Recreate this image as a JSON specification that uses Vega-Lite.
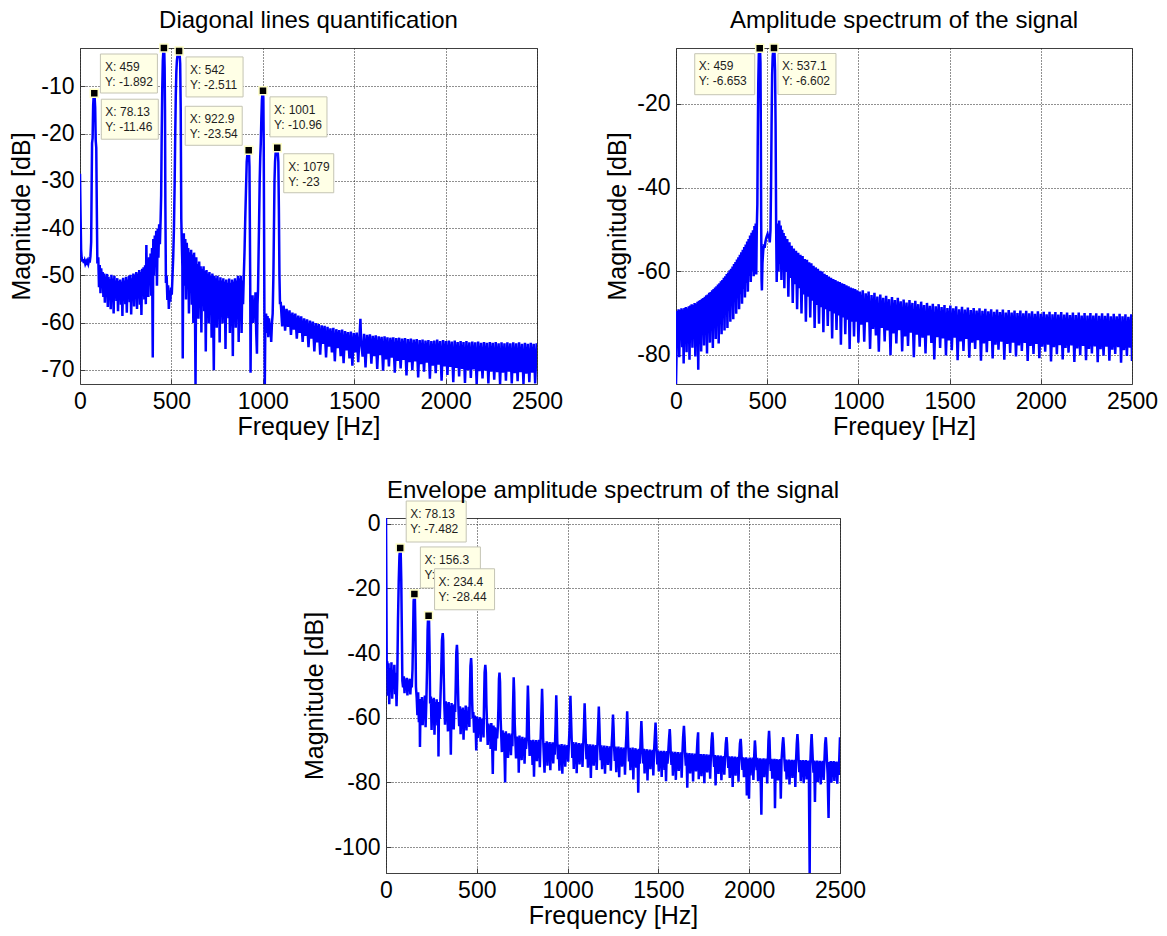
{
"$schema":"https://vega.github.io/schema/vega-lite/v6.json",
"autosize":{"type":"none"},
"padding":{"left":80,"top":48,"right":1087,"bottom":888},
"background":"white",
"bounds":"flush",
"spacing":470,
"config":{
 "font":"Liberation Sans",
 "view":{"stroke":"#404040","strokeWidth":1},
 "axis":{"domain":false,"grid":true,"gridColor":"#202020","gridDash":[1,2],"gridWidth":1,"gridOpacity":1,"ticks":true,"tickSize":-5,"tickColor":"#404040","tickWidth":1,"labelFont":"Liberation Sans","labelFontSize":23,"labelColor":"#000","labelPadding":11,"labelFlush":false,"labelOverlap":false,"titleFont":"Liberation Sans","titleFontSize":25,"titleFontWeight":"normal","titleColor":"#000","titlePadding":6},
 "axisX":{"titlePadding":1},
 "title":{"font":"Liberation Sans","fontSize":24,"fontWeight":"normal","color":"#000","frame":"group","anchor":"middle","offset":8,"baseline":"alphabetic"}
},
"datasets":{
"t1":[{"hz":78.13,"db":-11.46},{"hz":459,"db":-1.892},{"hz":542,"db":-2.511},{"hz":922.9,"db":-23.54},{"hz":1001,"db":-10.96},{"hz":1079,"db":-23}],
"t2":[{"hz":459,"db":-6.653},{"hz":537.1,"db":-6.602}],
"t3":[{"hz":78.13,"db":-7.482},{"hz":156.3,"db":-21.69},{"hz":234.4,"db":-28.44}],
"s1":[{"hz":0,"db":-28.5},{"hz":3,"db":-37},{"hz":6,"db":-44.5},{"hz":9,"db":-46.3},{"hz":13,"db":-47.1},{"hz":17,"db":-46.6},{"hz":21,"db":-47.4},{"hz":25,"db":-46.9},{"hz":29,"db":-47.6},{"hz":33,"db":-47.2},{"hz":37,"db":-47.8},{"hz":41,"db":-47.1},{"hz":45,"db":-47.6},{"hz":49,"db":-46.9},{"hz":53,"db":-47.3},{"hz":57,"db":-46},{"hz":61,"db":-43},{"hz":64,"db":-30},{"hz":66,"db":-22},{"hz":69,"db":-21},{"hz":72,"db":-14},{"hz":75,"db":-12},{"hz":78.13,"db":-11.46},{"hz":80,"db":-12.3},{"hz":83,"db":-14.5},{"hz":86,"db":-21.5},{"hz":89,"db":-23},{"hz":92,"db":-36},{"hz":95,"db":-47.5},
{"hz":100,"db":-46.2},{"hz":104,"db":-52.5},{"hz":108,"db":-47.8},{"hz":112,"db":-53.8},{"hz":116,"db":-48.5},{"hz":120,"db":-51.2},{"hz":124,"db":-49.3},{"hz":128,"db":-54.6},{"hz":132,"db":-49.6},{"hz":136,"db":-55.8},{"hz":140,"db":-50.2},{"hz":144,"db":-52.9},{"hz":148,"db":-49.7},{"hz":152,"db":-56.7},{"hz":156,"db":-50.3},{"hz":160,"db":-52.6},{"hz":164,"db":-50.8},{"hz":168,"db":-57.2},{"hz":172,"db":-49.9},{"hz":176,"db":-54.1},{"hz":180,"db":-50.7},{"hz":184,"db":-58.1},{"hz":188,"db":-50.1},{"hz":192,"db":-53.2},{"hz":196,"db":-51.1},{"hz":200,"db":-55.4},{"hz":204,"db":-50.6},{"hz":208,"db":-57.6},{"hz":212,"db":-51.2},{"hz":216,"db":-53.7},{"hz":220,"db":-50.9},{"hz":224,"db":-56.2},{"hz":228,"db":-51.3},{"hz":232,"db":-58.6},{"hz":236,"db":-50.5},{"hz":240,"db":-54.4},{"hz":244,"db":-51.1},{"hz":248,"db":-56.1},{"hz":252,"db":-50.3},{"hz":256,"db":-57.9},{"hz":260,"db":-50.9},{"hz":264,"db":-53.1},{"hz":268,"db":-50.1},{"hz":272,"db":-55.7},{"hz":276,"db":-49.9},{"hz":280,"db":-58.3},{"hz":284,"db":-50.6},{"hz":288,"db":-54.2},{"hz":292,"db":-49.6},{"hz":296,"db":-56.6},{"hz":300,"db":-49.9},{"hz":304,"db":-53.6},{"hz":308,"db":-49.3},{"hz":312,"db":-57.1},{"hz":316,"db":-49.6},{"hz":320,"db":-54.9},{"hz":324,"db":-48.9},{"hz":328,"db":-56.2},{"hz":332,"db":-49.3},{"hz":336,"db":-58.4},{"hz":340,"db":-48.6},{"hz":344,"db":-53.2},{"hz":348,"db":-48.3},{"hz":352,"db":-55.1},{"hz":356,"db":-47.9},{"hz":360,"db":-56.1},{"hz":363,"db":-43.6},{"hz":366,"db":-52.2},{"hz":370,"db":-47.1},{"hz":374,"db":-54.6},{"hz":378,"db":-46.2},{"hz":382,"db":-52.1},{"hz":386,"db":-45.4},{"hz":390,"db":-54.3},{"hz":394,"db":-44.2},{"hz":398,"db":-67.4},{"hz":401,"db":-42.3},{"hz":405,"db":-50.1},{"hz":409,"db":-41.6},{"hz":413,"db":-47.2},{"hz":417,"db":-40.6},{"hz":421,"db":-52.2},{"hz":425,"db":-40.1},{"hz":429,"db":-46.3},{"hz":433,"db":-39.2},{"hz":437,"db":-43.4},{"hz":441,"db":-38.1},{"hz":444,"db":-33},{"hz":447,"db":-20},{"hz":450,"db":-10.5},{"hz":453,"db":-4.6},{"hz":456,"db":-2.5},{"hz":459,"db":-1.892},{"hz":461,"db":-2.6},{"hz":463,"db":-6},{"hz":465,"db":-15},{"hz":467,"db":-35},{"hz":470,"db":-51.6},{"hz":474,"db":-50.1},{"hz":478,"db":-55.2},{"hz":482,"db":-52.1},{"hz":486,"db":-57.1},{"hz":490,"db":-53.2},{"hz":494,"db":-55.6},{"hz":498,"db":-52.6},{"hz":502,"db":-54.1},{"hz":506,"db":-50.2},{"hz":510,"db":-46.1},{"hz":514,"db":-40},{"hz":518,"db":-30},{"hz":521,"db":-20},{"hz":524,"db":-12},{"hz":527,"db":-7},{"hz":530,"db":-4.6},{"hz":534,"db":-3.2},{"hz":538,"db":-2.7},{"hz":542,"db":-2.511},{"hz":545,"db":-3.1},{"hz":548,"db":-5.2},{"hz":551,"db":-15},{"hz":554,"db":-38},{"hz":557,"db":-43.2},{"hz":560,"db":-48.1},{"hz":562,"db":-67.6},{"hz":565,"db":-45.2},{"hz":568,"db":-41.1},{"hz":572,"db":-52.2},{"hz":576,"db":-42.3},{"hz":580,"db":-55.1},{"hz":584,"db":-43.1},{"hz":588,"db":-48.2},{"hz":592,"db":-44.2},{"hz":596,"db":-58.1},{"hz":600,"db":-45.1},{"hz":604,"db":-51.2},{"hz":608,"db":-44.6},{"hz":612,"db":-56.2},{"hz":616,"db":-45.6},{"hz":620,"db":-60.1},{"hz":624,"db":-45.2},{"hz":628,"db":-52.3},{"hz":632,"db":-73},{"hz":636,"db":-46.2},{"hz":640,"db":-55.1},{"hz":644,"db":-47.6},{"hz":648,"db":-59.2},{"hz":652,"db":-47.1},{"hz":656,"db":-53.2},{"hz":660,"db":-48.1},{"hz":664,"db":-62.1},{"hz":668,"db":-48.6},{"hz":672,"db":-55.2},{"hz":676,"db":-48.1},{"hz":680,"db":-57.6},{"hz":684,"db":-49.1},{"hz":688,"db":-66.1},{"hz":692,"db":-48.9},{"hz":696,"db":-54.2},{"hz":700,"db":-49.6},{"hz":704,"db":-60.2},{"hz":708,"db":-49.3},{"hz":712,"db":-56.1},{"hz":716,"db":-50.1},{"hz":720,"db":-63.2},{"hz":724,"db":-49.6},{"hz":728,"db":-55.6},{"hz":732,"db":-70.1},{"hz":736,"db":-50.1},{"hz":740,"db":-57.2},{"hz":744,"db":-50.6},{"hz":748,"db":-61.1},{"hz":752,"db":-50.1},{"hz":756,"db":-54.6},{"hz":760,"db":-51.1},{"hz":764,"db":-64.2},{"hz":768,"db":-50.4},{"hz":772,"db":-56.1},{"hz":776,"db":-51.1},{"hz":780,"db":-60.2},{"hz":784,"db":-50.6},{"hz":788,"db":-58.1},{"hz":792,"db":-51.3},{"hz":796,"db":-65.6},{"hz":800,"db":-50.9},{"hz":804,"db":-55.2},{"hz":808,"db":-51.6},{"hz":812,"db":-59.1},{"hz":816,"db":-50.7},{"hz":820,"db":-62.2},{"hz":824,"db":-51.6},{"hz":828,"db":-56.6},{"hz":832,"db":-50.9},{"hz":836,"db":-67.1},{"hz":840,"db":-51.3},{"hz":844,"db":-58.2},{"hz":848,"db":-50.6},{"hz":852,"db":-61.1},{"hz":856,"db":-51.1},{"hz":860,"db":-57.2},{"hz":864,"db":-50.1},{"hz":868,"db":-64.1},{"hz":872,"db":-50.6},{"hz":876,"db":-59.2},{"hz":880,"db":-50.1},{"hz":884,"db":-62.2},{"hz":888,"db":-51.1},{"hz":892,"db":-56.1},{"hz":896,"db":-50.2},{"hz":900,"db":-45},{"hz":904,"db":-38},{"hz":908,"db":-32},{"hz":912,"db":-26},{"hz":916,"db":-24.2},{"hz":920,"db":-23.7},{"hz":922.9,"db":-23.54},{"hz":925,"db":-24.6},{"hz":927,"db":-27},{"hz":929,"db":-38},{"hz":931,"db":-50},{"hz":933,"db":-70.6},{"hz":936,"db":-55.2},{"hz":940,"db":-59.1},{"hz":944,"db":-54.2},{"hz":948,"db":-60.1},{"hz":952,"db":-55.1},{"hz":956,"db":-58.2},{"hz":960,"db":-53.6},{"hz":964,"db":-62.1},{"hz":968,"db":-66.6},{"hz":971,"db":-56.1},{"hz":974,"db":-53},{"hz":977,"db":-45},{"hz":980,"db":-38},{"hz":983,"db":-30},{"hz":986,"db":-25},{"hz":989,"db":-22},{"hz":992,"db":-17},{"hz":995,"db":-13},{"hz":998,"db":-11.5},{"hz":1001,"db":-10.96},{"hz":1003,"db":-12.5},{"hz":1005,"db":-22},{"hz":1007,"db":-40},{"hz":1009,"db":-60},{"hz":1011,"db":-73},{"hz":1014,"db":-60.2},{"hz":1018,"db":-58.1},{"hz":1022,"db":-62.2},{"hz":1026,"db":-58.6},{"hz":1030,"db":-63.1},{"hz":1034,"db":-59.1},{"hz":1038,"db":-61.2},{"hz":1042,"db":-60.1},{"hz":1046,"db":-64.1},{"hz":1050,"db":-60.2},{"hz":1054,"db":-58.1},{"hz":1058,"db":-50},{"hz":1061,"db":-40},{"hz":1064,"db":-30},{"hz":1067,"db":-26},{"hz":1070,"db":-24.1},{"hz":1074,"db":-23.5},{"hz":1079,"db":-23},{"hz":1082,"db":-24},{"hz":1085,"db":-26},{"hz":1088,"db":-36},{"hz":1091,"db":-50},{"hz":1094,"db":-56.1},
{"hz":1098,"db":-55.6},{"hz":1106,"db":-60.8},{"hz":1114,"db":-56.4},{"hz":1122,"db":-61.7},{"hz":1130,"db":-57.1},{"hz":1138,"db":-60.9},{"hz":1146,"db":-57.4},{"hz":1154,"db":-62.6},{"hz":1162,"db":-57.9},{"hz":1170,"db":-61.5},{"hz":1178,"db":-58.1},{"hz":1186,"db":-63.4},{"hz":1194,"db":-58.5},{"hz":1202,"db":-62.2},{"hz":1210,"db":-58.7},{"hz":1218,"db":-64.1},{"hz":1226,"db":-59.1},{"hz":1234,"db":-62.8},{"hz":1242,"db":-59.3},{"hz":1250,"db":-65.2},{"hz":1258,"db":-59.6},{"hz":1266,"db":-63.4},{"hz":1274,"db":-59.8},{"hz":1282,"db":-66.1},{"hz":1290,"db":-60.1},{"hz":1298,"db":-64.2},{"hz":1306,"db":-60.3},{"hz":1314,"db":-66.8},{"hz":1322,"db":-60.6},{"hz":1330,"db":-64.5},{"hz":1338,"db":-60.7},{"hz":1346,"db":-67.4},{"hz":1354,"db":-60.9},{"hz":1362,"db":-65.1},{"hz":1370,"db":-61.2},{"hz":1378,"db":-66.3},{"hz":1386,"db":-61.1},{"hz":1394,"db":-68.2},{"hz":1402,"db":-61.4},{"hz":1410,"db":-65.4},{"hz":1418,"db":-61.6},{"hz":1426,"db":-67.1},{"hz":1434,"db":-61.5},{"hz":1442,"db":-68.6},{"hz":1450,"db":-61.8},{"hz":1458,"db":-65.9},{"hz":1466,"db":-62},{"hz":1474,"db":-67.6},{"hz":1482,"db":-61.9},{"hz":1490,"db":-69.1},{"hz":1498,"db":-62.2},{"hz":1506,"db":-66.3},{"hz":1514,"db":-62.1},{"hz":1522,"db":-68.4},{"hz":1530,"db":-62.3},{"hz":1534,"db":-59.2},{"hz":1538,"db":-64.1},{"hz":1546,"db":-67.2},{"hz":1554,"db":-62.4},{"hz":1562,"db":-69.5},{"hz":1570,"db":-62.6},{"hz":1578,"db":-66.6},{"hz":1586,"db":-62.5},{"hz":1594,"db":-68.7},{"hz":1602,"db":-62.8},{"hz":1610,"db":-67.1},{"hz":1618,"db":-62.7},{"hz":1626,"db":-69.8},{"hz":1634,"db":-62.9},{"hz":1642,"db":-66.9},{"hz":1650,"db":-63},{"hz":1658,"db":-70.2},{"hz":1666,"db":-62.9},{"hz":1674,"db":-67.8},{"hz":1682,"db":-63.1},{"hz":1690,"db":-69.3},{"hz":1698,"db":-63.2},{"hz":1706,"db":-67.4},{"hz":1714,"db":-63.1},{"hz":1722,"db":-70.6},{"hz":1730,"db":-63.3},{"hz":1738,"db":-68.1},{"hz":1746,"db":-63.2},{"hz":1754,"db":-69.7},{"hz":1762,"db":-63.4},{"hz":1770,"db":-67.9},{"hz":1778,"db":-63.3},{"hz":1786,"db":-71.2},{"hz":1794,"db":-63.5},{"hz":1802,"db":-68.4},{"hz":1810,"db":-63.4},{"hz":1818,"db":-70.1},{"hz":1826,"db":-63.6},{"hz":1834,"db":-68.2},{"hz":1842,"db":-63.5},{"hz":1850,"db":-71.6},{"hz":1858,"db":-63.7},{"hz":1866,"db":-68.8},{"hz":1874,"db":-63.6},{"hz":1882,"db":-70.4},{"hz":1890,"db":-63.8},{"hz":1898,"db":-68.5},{"hz":1906,"db":-63.7},{"hz":1914,"db":-71.9},{"hz":1922,"db":-63.9},{"hz":1930,"db":-69.1},{"hz":1938,"db":-63.8},{"hz":1946,"db":-70.7},{"hz":1954,"db":-63.6},{"hz":1962,"db":-68.9},{"hz":1970,"db":-63.9},{"hz":1978,"db":-72.3},{"hz":1986,"db":-63.7},{"hz":1994,"db":-69.3},{"hz":2002,"db":-63.9},{"hz":2010,"db":-71.1},{"hz":2018,"db":-63.8},{"hz":2026,"db":-69.4},{"hz":2034,"db":-64},{"hz":2042,"db":-72.6},{"hz":2050,"db":-63.8},{"hz":2058,"db":-69.6},{"hz":2066,"db":-64.1},{"hz":2074,"db":-71.4},{"hz":2082,"db":-63.9},{"hz":2090,"db":-69.8},{"hz":2098,"db":-64.1},{"hz":2106,"db":-72.8},{"hz":2114,"db":-63.9},{"hz":2122,"db":-70.1},{"hz":2130,"db":-64.2},{"hz":2138,"db":-71.7},{"hz":2146,"db":-64},{"hz":2154,"db":-69.9},{"hz":2162,"db":-64.2},{"hz":2170,"db":-73},{"hz":2178,"db":-64},{"hz":2186,"db":-70.3},{"hz":2194,"db":-64.3},{"hz":2202,"db":-71.8},{"hz":2210,"db":-64.1},{"hz":2218,"db":-70.2},{"hz":2226,"db":-64.3},{"hz":2234,"db":-72.9},{"hz":2242,"db":-64.1},{"hz":2250,"db":-70.4},{"hz":2258,"db":-64.3},{"hz":2266,"db":-72.1},{"hz":2274,"db":-64.1},{"hz":2282,"db":-70.5},{"hz":2290,"db":-64.4},{"hz":2298,"db":-73},{"hz":2306,"db":-64.2},{"hz":2314,"db":-70.6},{"hz":2322,"db":-64.4},{"hz":2330,"db":-72.3},{"hz":2338,"db":-64.2},{"hz":2346,"db":-70.4},{"hz":2354,"db":-64.4},{"hz":2362,"db":-72.9},{"hz":2370,"db":-64.2},{"hz":2378,"db":-70.7},{"hz":2386,"db":-64.4},{"hz":2394,"db":-72.4},{"hz":2402,"db":-64.2},{"hz":2410,"db":-70.5},{"hz":2418,"db":-64.5},{"hz":2426,"db":-73},{"hz":2434,"db":-64.3},{"hz":2442,"db":-70.8},{"hz":2450,"db":-64.5},{"hz":2458,"db":-72.6},{"hz":2466,"db":-64.3},{"hz":2474,"db":-70.6},{"hz":2482,"db":-64.5},{"hz":2490,"db":-72.9},{"hz":2498,"db":-64.4},{"hz":2500,"db":-66}],
"s2":[{"hz":0,"db":-87},{"hz":3,"db":-80},{"hz":6,"db":-69.5},{"hz":10,"db":-76.2},{"hz":14,"db":-69.1},{"hz":18,"db":-80.6},{"hz":22,"db":-69.3},{"hz":26,"db":-74.8},{"hz":30,"db":-68.9},{"hz":34,"db":-78.2},{"hz":38,"db":-69.2},{"hz":42,"db":-82.1},{"hz":46,"db":-68.8},{"hz":50,"db":-75.3},{"hz":54,"db":-68.6},{"hz":58,"db":-79.4},{"hz":62,"db":-68.9},{"hz":66,"db":-76.1},{"hz":70,"db":-68.4},{"hz":74,"db":-81.2},{"hz":78,"db":-68.2},{"hz":82,"db":-74.6},{"hz":86,"db":-67.9},{"hz":90,"db":-78.3},{"hz":94,"db":-68.1},{"hz":98,"db":-75.2},{"hz":102,"db":-67.6},{"hz":106,"db":-80.4},{"hz":110,"db":-67.8},{"hz":114,"db":-73.9},{"hz":118,"db":-67.3},{"hz":122,"db":-83.6},{"hz":126,"db":-67.1},{"hz":130,"db":-76.4},{"hz":134,"db":-66.9},{"hz":138,"db":-79.2},{"hz":142,"db":-66.6},{"hz":146,"db":-74.1},{"hz":150,"db":-66.4},{"hz":154,"db":-77.8},{"hz":158,"db":-66.1},{"hz":162,"db":-73.6},{"hz":166,"db":-65.8},{"hz":170,"db":-79.7},{"hz":174,"db":-65.6},{"hz":178,"db":-74.2},{"hz":182,"db":-65.2},{"hz":186,"db":-77.1},{"hz":190,"db":-65},{"hz":194,"db":-72.8},{"hz":198,"db":-64.6},{"hz":202,"db":-78.4},{"hz":206,"db":-64.3},{"hz":210,"db":-73.1},{"hz":214,"db":-63.9},{"hz":218,"db":-76.2},{"hz":222,"db":-63.6},{"hz":226,"db":-71.9},{"hz":230,"db":-63.2},{"hz":234,"db":-77.3},{"hz":238,"db":-62.9},{"hz":242,"db":-72.2},{"hz":246,"db":-62.4},{"hz":250,"db":-75.1},{"hz":254,"db":-62.1},{"hz":258,"db":-70.8},{"hz":262,"db":-61.6},{"hz":266,"db":-74.2},{"hz":270,"db":-61.2},{"hz":274,"db":-70.1},{"hz":278,"db":-60.7},{"hz":282,"db":-73.6},{"hz":286,"db":-60.3},{"hz":290,"db":-69.4},{"hz":294,"db":-59.8},{"hz":298,"db":-72.1},{"hz":302,"db":-59.4},{"hz":306,"db":-68.2},{"hz":310,"db":-58.9},{"hz":314,"db":-71.5},{"hz":318,"db":-58.3},{"hz":322,"db":-67.4},{"hz":326,"db":-57.8},{"hz":330,"db":-70.2},{"hz":334,"db":-57.2},{"hz":338,"db":-66.5},{"hz":342,"db":-56.7},{"hz":346,"db":-69.1},{"hz":350,"db":-56.1},{"hz":354,"db":-65.4},{"hz":358,"db":-55.5},{"hz":362,"db":-67.8},{"hz":366,"db":-54.9},{"hz":370,"db":-64.2},{"hz":374,"db":-54.2},{"hz":378,"db":-66.3},{"hz":382,"db":-53.6},{"hz":386,"db":-62.8},{"hz":390,"db":-52.9},{"hz":394,"db":-64.9},{"hz":398,"db":-52.3},{"hz":402,"db":-61.1},{"hz":406,"db":-51.5},{"hz":410,"db":-62.6},{"hz":414,"db":-50.8},{"hz":418,"db":-59.9},{"hz":422,"db":-50.2},{"hz":426,"db":-61.2},{"hz":430,"db":-49.2},{"hz":434,"db":-56.8},{"hz":437,"db":-48.6},{"hz":440,"db":-60.8},{"hz":443,"db":-49.5},{"hz":446,"db":-44},{"hz":448,"db":-30},{"hz":451,"db":-15},{"hz":454,"db":-8.2},{"hz":457,"db":-7},{"hz":459,"db":-6.653},{"hz":461,"db":-7.3},{"hz":463,"db":-10},{"hz":465,"db":-25},{"hz":467,"db":-48},{"hz":469,"db":-62},{"hz":471,"db":-64.6},{"hz":474,"db":-58.1},{"hz":478,"db":-55.2},{"hz":482,"db":-53.6},{"hz":486,"db":-54.4},{"hz":490,"db":-53.1},{"hz":494,"db":-52.2},{"hz":498,"db":-51.6},{"hz":502,"db":-51.1},{"hz":506,"db":-51.9},{"hz":510,"db":-51.3},{"hz":514,"db":-53.1},{"hz":518,"db":-50.2},{"hz":521,"db":-40},{"hz":524,"db":-25},{"hz":527,"db":-13},{"hz":530,"db":-8.6},{"hz":533,"db":-7.2},{"hz":537.1,"db":-6.602},{"hz":540,"db":-7.6},{"hz":543,"db":-12},{"hz":546,"db":-25},{"hz":549,"db":-49},{"hz":552,"db":-62.6},{"hz":555,"db":-56.2},{"hz":558,"db":-48.6},{"hz":562,"db":-60.1},{"hz":566,"db":-47.9},{"hz":570,"db":-58.2},{"hz":574,"db":-49.1},{"hz":578,"db":-62.1},{"hz":582,"db":-50.1},{"hz":586,"db":-59.6},{"hz":590,"db":-50.9},{"hz":594,"db":-64.1},{"hz":598,"db":-51.6},{"hz":604,"db":-60.2},{"hz":610,"db":-52.3},{"hz":616,"db":-66.1},{"hz":622,"db":-53.1},{"hz":628,"db":-61.6},{"hz":634,"db":-53.9},{"hz":640,"db":-67.6},{"hz":646,"db":-54.6},{"hz":652,"db":-63.1},{"hz":658,"db":-55.1},{"hz":664,"db":-69.1},{"hz":670,"db":-55.6},{"hz":676,"db":-64.1},{"hz":682,"db":-56.1},{"hz":688,"db":-70.1},{"hz":694,"db":-56.4},{"hz":700,"db":-65.6},{"hz":706,"db":-57.1},{"hz":712,"db":-72.1},{"hz":718,"db":-57.3},{"hz":724,"db":-66.1},{"hz":730,"db":-57.9},{"hz":736,"db":-71.1},{"hz":742,"db":-58.1},{"hz":748,"db":-67.1},{"hz":754,"db":-58.7},{"hz":760,"db":-73.6},{"hz":766,"db":-59.1},{"hz":772,"db":-68.1},{"hz":778,"db":-59.4},{"hz":784,"db":-72.6},{"hz":790,"db":-59.9},{"hz":796,"db":-68.6},{"hz":802,"db":-60.1},{"hz":808,"db":-74.6},{"hz":814,"db":-60.6},{"hz":820,"db":-69.1},{"hz":826,"db":-60.9},{"hz":832,"db":-73.1},{"hz":838,"db":-61.3},{"hz":844,"db":-69.6},{"hz":850,"db":-61.6},{"hz":856,"db":-76.1},{"hz":862,"db":-61.9},{"hz":868,"db":-70.1},{"hz":874,"db":-62.1},{"hz":880,"db":-74.1},{"hz":886,"db":-62.4},{"hz":892,"db":-70.6},{"hz":898,"db":-62.6},{"hz":904,"db":-77.6},{"hz":910,"db":-62.9},{"hz":916,"db":-71.1},{"hz":922,"db":-63.1},{"hz":928,"db":-75.1},{"hz":934,"db":-63.4},{"hz":940,"db":-71.6},{"hz":946,"db":-63.6},{"hz":952,"db":-78.6},{"hz":958,"db":-63.9},{"hz":964,"db":-72.1},{"hz":970,"db":-64.1},{"hz":976,"db":-75.6},{"hz":982,"db":-64.3},{"hz":988,"db":-72.1},{"hz":994,"db":-64.6},{"hz":1000,"db":-77.1},
{"hz":1008,"db":-64.9},{"hz":1016,"db":-72.8},{"hz":1024,"db":-64.6},{"hz":1032,"db":-76.9},{"hz":1040,"db":-65.3},{"hz":1048,"db":-72.2},{"hz":1056,"db":-64.9},{"hz":1064,"db":-78.6},{"hz":1072,"db":-65.7},{"hz":1080,"db":-73.8},{"hz":1088,"db":-65.2},{"hz":1096,"db":-75.4},{"hz":1104,"db":-66.1},{"hz":1112,"db":-79.3},{"hz":1120,"db":-65.6},{"hz":1128,"db":-73.6},{"hz":1136,"db":-66.4},{"hz":1144,"db":-76.8},{"hz":1152,"db":-65.9},{"hz":1160,"db":-74.2},{"hz":1168,"db":-66.7},{"hz":1176,"db":-80.1},{"hz":1184,"db":-66.2},{"hz":1192,"db":-74.9},{"hz":1200,"db":-66.9},{"hz":1208,"db":-77.3},{"hz":1216,"db":-66.4},{"hz":1224,"db":-74.1},{"hz":1232,"db":-67.2},{"hz":1240,"db":-79.2},{"hz":1248,"db":-66.8},{"hz":1256,"db":-75.6},{"hz":1264,"db":-67.5},{"hz":1272,"db":-77.9},{"hz":1280,"db":-66.9},{"hz":1288,"db":-74.7},{"hz":1296,"db":-67.6},{"hz":1304,"db":-80.6},{"hz":1312,"db":-67.1},{"hz":1320,"db":-75.2},{"hz":1328,"db":-67.9},{"hz":1336,"db":-78.1},{"hz":1344,"db":-67.3},{"hz":1352,"db":-75.9},{"hz":1360,"db":-68.1},{"hz":1368,"db":-79.7},{"hz":1376,"db":-67.6},{"hz":1384,"db":-75.4},{"hz":1392,"db":-68.3},{"hz":1400,"db":-77.2},{"hz":1408,"db":-67.8},{"hz":1416,"db":-81.1},{"hz":1424,"db":-68.4},{"hz":1432,"db":-75.8},{"hz":1440,"db":-67.9},{"hz":1448,"db":-78.4},{"hz":1456,"db":-68.6},{"hz":1464,"db":-76.1},{"hz":1472,"db":-68.1},{"hz":1480,"db":-80.2},{"hz":1488,"db":-68.8},{"hz":1496,"db":-76.6},{"hz":1504,"db":-68.2},{"hz":1512,"db":-78.9},{"hz":1520,"db":-68.9},{"hz":1528,"db":-75.9},{"hz":1536,"db":-68.4},{"hz":1544,"db":-81.3},{"hz":1552,"db":-69.1},{"hz":1560,"db":-76.8},{"hz":1568,"db":-68.5},{"hz":1576,"db":-79.1},{"hz":1584,"db":-69.2},{"hz":1592,"db":-76.2},{"hz":1600,"db":-68.7},{"hz":1608,"db":-80.7},{"hz":1616,"db":-69.3},{"hz":1624,"db":-77.1},{"hz":1632,"db":-68.8},{"hz":1640,"db":-78.6},{"hz":1648,"db":-69.4},{"hz":1656,"db":-76.5},{"hz":1664,"db":-68.9},{"hz":1672,"db":-81.4},{"hz":1680,"db":-69.5},{"hz":1688,"db":-77.3},{"hz":1696,"db":-69},{"hz":1704,"db":-79.4},{"hz":1712,"db":-69.6},{"hz":1720,"db":-76.7},{"hz":1728,"db":-69.1},{"hz":1736,"db":-80.9},{"hz":1744,"db":-69.7},{"hz":1752,"db":-77.6},{"hz":1760,"db":-69.2},{"hz":1768,"db":-78.8},{"hz":1776,"db":-69.8},{"hz":1784,"db":-76.9},{"hz":1792,"db":-69.2},{"hz":1800,"db":-81.2},{"hz":1808,"db":-69.9},{"hz":1816,"db":-77.4},{"hz":1824,"db":-69.3},{"hz":1832,"db":-79.6},{"hz":1840,"db":-69.9},{"hz":1848,"db":-77.1},{"hz":1856,"db":-69.4},{"hz":1864,"db":-80.4},{"hz":1872,"db":-70},{"hz":1880,"db":-77.8},{"hz":1888,"db":-69.4},{"hz":1896,"db":-79.1},{"hz":1904,"db":-70.1},{"hz":1912,"db":-77.2},{"hz":1920,"db":-69.5},{"hz":1928,"db":-81.5},{"hz":1936,"db":-70.1},{"hz":1944,"db":-77.9},{"hz":1952,"db":-69.6},{"hz":1960,"db":-79.8},{"hz":1968,"db":-70.2},{"hz":1976,"db":-77.4},{"hz":1984,"db":-69.6},{"hz":1992,"db":-80.8},{"hz":2000,"db":-70.2},{"hz":2008,"db":-78.1},{"hz":2016,"db":-69.7},{"hz":2024,"db":-79.3},{"hz":2032,"db":-70.3},{"hz":2040,"db":-77.6},{"hz":2048,"db":-69.7},{"hz":2056,"db":-81.6},{"hz":2064,"db":-70.3},{"hz":2072,"db":-78.2},{"hz":2080,"db":-69.8},{"hz":2088,"db":-79.9},{"hz":2096,"db":-70.4},{"hz":2104,"db":-77.7},{"hz":2112,"db":-69.8},{"hz":2120,"db":-81.1},{"hz":2128,"db":-70.4},{"hz":2136,"db":-78.4},{"hz":2144,"db":-69.9},{"hz":2152,"db":-79.5},{"hz":2160,"db":-70.5},{"hz":2168,"db":-77.8},{"hz":2176,"db":-69.9},{"hz":2184,"db":-81.7},{"hz":2192,"db":-70.5},{"hz":2200,"db":-78.5},{"hz":2208,"db":-69.9},{"hz":2216,"db":-80.1},{"hz":2224,"db":-70.6},{"hz":2232,"db":-77.9},{"hz":2240,"db":-70},{"hz":2248,"db":-81.3},{"hz":2256,"db":-70.6},{"hz":2264,"db":-78.6},{"hz":2272,"db":-70},{"hz":2280,"db":-79.7},{"hz":2288,"db":-70.6},{"hz":2296,"db":-78},{"hz":2304,"db":-70.1},{"hz":2312,"db":-81.8},{"hz":2320,"db":-70.7},{"hz":2328,"db":-78.7},{"hz":2336,"db":-70.1},{"hz":2344,"db":-80.2},{"hz":2352,"db":-70.7},{"hz":2360,"db":-78.1},{"hz":2368,"db":-70.1},{"hz":2376,"db":-81.4},{"hz":2384,"db":-70.8},{"hz":2392,"db":-78.8},{"hz":2400,"db":-70.2},{"hz":2408,"db":-79.8},{"hz":2416,"db":-70.8},{"hz":2424,"db":-78.2},{"hz":2432,"db":-70.2},{"hz":2440,"db":-81.9},{"hz":2448,"db":-70.8},{"hz":2456,"db":-78.9},{"hz":2464,"db":-70.3},{"hz":2472,"db":-80.3},{"hz":2480,"db":-70.9},{"hz":2488,"db":-78.3},{"hz":2496,"db":-70.3},{"hz":2500,"db":-81.5}],
"s3":[{"hz":0,"db":1.8},{"hz":2,"db":-20},{"hz":4,"db":-45},{"hz":7,"db":-42.5},{"hz":10,"db":-53.2},{"hz":14,"db":-43.1},{"hz":18,"db":-55.8},{"hz":22,"db":-44.6},{"hz":26,"db":-51.3},{"hz":30,"db":-42.8},{"hz":34,"db":-54.1},{"hz":38,"db":-45.2},{"hz":42,"db":-49.8},{"hz":46,"db":-43.6},{"hz":50,"db":-52.7},{"hz":54,"db":-46.1},{"hz":58,"db":-56.4},{"hz":62,"db":-48},{"hz":66,"db":-30},{"hz":70,"db":-18},{"hz":74,"db":-10},{"hz":78.13,"db":-7.482},{"hz":81,"db":-9},{"hz":84,"db":-17},{"hz":87,"db":-32},{"hz":90,"db":-48.5},{"hz":94,"db":-50.6},{"hz":98,"db":-47.2},{"hz":102,"db":-52.4},{"hz":106,"db":-48.1},{"hz":110,"db":-51.2},{"hz":114,"db":-47.6},{"hz":118,"db":-53.1},{"hz":122,"db":-48.4},{"hz":126,"db":-50.2},{"hz":130,"db":-47.9},{"hz":134,"db":-52.8},{"hz":138,"db":-48.8},{"hz":142,"db":-50.6},{"hz":146,"db":-45},{"hz":149,"db":-35},{"hz":152,"db":-24},{"hz":156.3,"db":-21.69},{"hz":159,"db":-23},{"hz":162,"db":-33},{"hz":165,"db":-50.5},{"hz":169,"db":-53.8},{"hz":173,"db":-59.2},{"hz":177,"db":-52.1},{"hz":181,"db":-61.4},{"hz":185,"db":-54.2},{"hz":187,"db":-69},{"hz":190,"db":-56.1},{"hz":194,"db":-60.8},{"hz":198,"db":-53.6},{"hz":202,"db":-62.3},{"hz":206,"db":-55.2},{"hz":210,"db":-57.6},{"hz":214,"db":-53.1},{"hz":218,"db":-62.9},{"hz":222,"db":-55.4},{"hz":226,"db":-45},{"hz":229,"db":-33},{"hz":231,"db":-30},{"hz":234.4,"db":-28.44},{"hz":237,"db":-30},{"hz":240,"db":-40},{"hz":243,"db":-55.6},{"hz":247,"db":-53.4},{"hz":251,"db":-63.8},{"hz":255,"db":-54.2},{"hz":259,"db":-60.1},{"hz":263,"db":-53.8},{"hz":267,"db":-65.2},{"hz":271,"db":-55.1},{"hz":275,"db":-59.6},{"hz":279,"db":-54.3},{"hz":283,"db":-62.4},{"hz":287,"db":-56.2},{"hz":289,"db":-72},{"hz":292,"db":-55.1},{"hz":296,"db":-60.3},{"hz":300,"db":-53.6},{"hz":304,"db":-46},{"hz":308,"db":-36},{"hz":312.5,"db":-33.8},{"hz":315,"db":-36},{"hz":318,"db":-47},{"hz":321,"db":-55.8},{"hz":325,"db":-62.1},{"hz":329,"db":-54.9},{"hz":333,"db":-59.3},{"hz":337,"db":-55.6},{"hz":341,"db":-64.2},{"hz":345,"db":-55.1},{"hz":349,"db":-60.5},{"hz":353,"db":-56.3},{"hz":357,"db":-71.4},{"hz":361,"db":-55.4},{"hz":365,"db":-60.2},{"hz":369,"db":-56.1},{"hz":373,"db":-63.6},{"hz":377,"db":-55.8},{"hz":381,"db":-58.2},{"hz":384,"db":-50},{"hz":387,"db":-40},{"hz":390.6,"db":-37.4},{"hz":393,"db":-40},{"hz":396,"db":-50},{"hz":399,"db":-57.2},{"hz":403,"db":-62.6},{"hz":407,"db":-56.4},{"hz":411,"db":-65.1},{"hz":415,"db":-57.3},{"hz":419,"db":-61.2},{"hz":423,"db":-56.8},{"hz":427,"db":-66.8},{"hz":431,"db":-57.6},{"hz":435,"db":-60.9},{"hz":439,"db":-56.2},{"hz":443,"db":-63.9},{"hz":447,"db":-57.9},{"hz":451,"db":-61.4},{"hz":455,"db":-56.6},{"hz":459,"db":-62.8},{"hz":462,"db":-52},{"hz":465,"db":-44},{"hz":468.75,"db":-41.5},{"hz":471,"db":-44},{"hz":474,"db":-54},{"hz":477,"db":-60.1},{"hz":481,"db":-58.2},{"hz":485,"db":-64.6},{"hz":489,"db":-59.3},{"hz":493,"db":-61.7},{"hz":497,"db":-70.1},{"hz":501,"db":-59.6},{"hz":505,"db":-66.2},{"hz":509,"db":-60.4},{"hz":513,"db":-63.1},{"hz":517,"db":-59.8},{"hz":521,"db":-67.4},{"hz":525,"db":-60.2},{"hz":529,"db":-63.8},{"hz":533,"db":-60.9},{"hz":537,"db":-66.1},{"hz":540,"db":-55},{"hz":543,"db":-46},{"hz":546.9,"db":-43.6},{"hz":550,"db":-46},{"hz":553,"db":-56},{"hz":556,"db":-61.2},{"hz":560,"db":-68.4},{"hz":564,"db":-61.8},{"hz":568,"db":-64.9},{"hz":572,"db":-62.3},{"hz":576,"db":-69.6},{"hz":580,"db":-61.6},{"hz":584,"db":-66.2},{"hz":588,"db":-77.4},{"hz":592,"db":-62.4},{"hz":596,"db":-67.6},{"hz":600,"db":-62.9},{"hz":604,"db":-70.2},{"hz":608,"db":-63.3},{"hz":612,"db":-66.4},{"hz":616,"db":-62.7},{"hz":619,"db":-57},{"hz":622,"db":-48},{"hz":625,"db":-46},{"hz":628,"db":-49},{"hz":631,"db":-60},{"hz":634,"db":-64.5},{"hz":638,"db":-70.6},{"hz":642,"db":-63.9},{"hz":646,"db":-67.8},{"hz":650,"db":-64.6},{"hz":656,"db":-80},{"hz":660,"db":-64.2},{"hz":664,"db":-69.2},{"hz":668,"db":-65.1},{"hz":672,"db":-72.4},{"hz":676,"db":-64.8},{"hz":680,"db":-68.3},{"hz":684,"db":-65.4},{"hz":688,"db":-71.6},{"hz":692,"db":-64.9},{"hz":696,"db":-68.8},{"hz":699,"db":-58},{"hz":703.1,"db":-47.5},{"hz":706,"db":-52},{"hz":709,"db":-62},{"hz":712,"db":-66.2},{"hz":716,"db":-72.6},{"hz":720,"db":-65.8},{"hz":724,"db":-69.4},{"hz":728,"db":-66.1},{"hz":731,"db":-77},{"hz":735,"db":-65.5},{"hz":739,"db":-70.2},{"hz":743,"db":-66.4},{"hz":747,"db":-73.1},{"hz":751,"db":-65.9},{"hz":755,"db":-69.1},{"hz":759,"db":-66.6},{"hz":763,"db":-74.2},{"hz":767,"db":-66.1},{"hz":771,"db":-69.6},{"hz":775,"db":-66.5},{"hz":778,"db":-58},{"hz":781.25,"db":-50},{"hz":784,"db":-55},{"hz":787,"db":-65},{"hz":791,"db":-71.8},{"hz":795,"db":-66.9},{"hz":799,"db":-70.4},{"hz":803,"db":-67.1},{"hz":807,"db":-74.6},{"hz":811,"db":-66.8},{"hz":815,"db":-78.2},{"hz":819,"db":-67.3},{"hz":823,"db":-71.2},{"hz":827,"db":-66.9},{"hz":831,"db":-73.4},{"hz":835,"db":-67.4},{"hz":839,"db":-70.1},{"hz":843,"db":-66.8},{"hz":847,"db":-75.3},{"hz":851,"db":-67.2},{"hz":855,"db":-60},{"hz":859.4,"db":-51},{"hz":862,"db":-56},{"hz":865,"db":-66},{"hz":869,"db":-71.6},{"hz":873,"db":-77},{"hz":877,"db":-67.8},{"hz":881,"db":-72.2},{"hz":885,"db":-67.3},{"hz":889,"db":-74.8},{"hz":893,"db":-67.9},{"hz":897,"db":-71.1},{"hz":901,"db":-67.5},{"hz":905,"db":-76.2},{"hz":909,"db":-68.1},{"hz":913,"db":-71.6},{"hz":917,"db":-67.6},{"hz":921,"db":-74.1},{"hz":925,"db":-68.2},{"hz":929,"db":-71.4},{"hz":934,"db":-62},{"hz":937.5,"db":-53},{"hz":940,"db":-58},{"hz":943,"db":-67},{"hz":947,"db":-72.8},{"hz":951,"db":-68.3},{"hz":955,"db":-76.4},{"hz":959,"db":-68.6},{"hz":963,"db":-71.9},{"hz":967,"db":-68.1},{"hz":971,"db":-77.3},{"hz":975,"db":-68.7},{"hz":979,"db":-72.4},{"hz":983,"db":-68.3},{"hz":987,"db":-75.1},{"hz":991,"db":-68.8},{"hz":995,"db":-72.1},{"hz":999,"db":-68.4},{"hz":1003,"db":-73.6},{"hz":1007,"db":-67.9},{"hz":1012,"db":-62},{"hz":1015.6,"db":-53.2},{"hz":1019,"db":-60},{"hz":1022,"db":-66},{"hz":1026,"db":-72.4},{"hz":1030,"db":-67.5},{"hz":1034,"db":-75.8},{"hz":1038,"db":-68.1},{"hz":1042,"db":-71.3},{"hz":1046,"db":-67.6},{"hz":1050,"db":-77.1},{"hz":1054,"db":-68.2},{"hz":1058,"db":-71.6},{"hz":1062,"db":-67.8},{"hz":1066,"db":-74.4},{"hz":1070,"db":-68.3},{"hz":1074,"db":-71.1},{"hz":1078,"db":-67.9},{"hz":1082,"db":-75.2},{"hz":1086,"db":-68.4},{"hz":1090,"db":-63},{"hz":1093.75,"db":-55.5},{"hz":1097,"db":-61},{"hz":1100,"db":-67},{"hz":1104,"db":-72.8},{"hz":1108,"db":-68.1},{"hz":1112,"db":-75.4},{"hz":1116,"db":-68.6},{"hz":1120,"db":-71.7},{"hz":1124,"db":-68.2},{"hz":1128,"db":-78.6},{"hz":1132,"db":-68.7},{"hz":1136,"db":-72.1},{"hz":1140,"db":-68.3},{"hz":1144,"db":-74.8},{"hz":1148,"db":-68.8},{"hz":1152,"db":-71.5},{"hz":1156,"db":-68.4},{"hz":1160,"db":-76.1},{"hz":1164,"db":-68.9},{"hz":1168,"db":-63},{"hz":1171.9,"db":-56.5},{"hz":1175,"db":-62},{"hz":1178,"db":-68},{"hz":1182,"db":-73.1},{"hz":1186,"db":-68.5},{"hz":1190,"db":-75.9},{"hz":1194,"db":-69.1},{"hz":1198,"db":-71.8},{"hz":1202,"db":-68.6},{"hz":1206,"db":-77.3},{"hz":1210,"db":-69.2},{"hz":1214,"db":-72.2},{"hz":1218,"db":-68.7},{"hz":1222,"db":-74.6},{"hz":1226,"db":-69.3},{"hz":1230,"db":-71.9},{"hz":1234,"db":-68.8},{"hz":1238,"db":-76.4},{"hz":1242,"db":-69.1},{"hz":1246,"db":-65},{"hz":1250,"db":-59},{"hz":1253,"db":-63},{"hz":1256,"db":-69},{"hz":1260,"db":-73.3},{"hz":1264,"db":-68.9},{"hz":1268,"db":-76.8},{"hz":1272,"db":-69.4},{"hz":1276,"db":-72.1},{"hz":1280,"db":-68.9},{"hz":1284,"db":-78.4},{"hz":1288,"db":-69.5},{"hz":1292,"db":-72.6},{"hz":1296,"db":-69.1},{"hz":1300,"db":-75.1},{"hz":1304,"db":-69.6},{"hz":1308,"db":-72.2},{"hz":1312,"db":-69.2},{"hz":1316,"db":-77.6},{"hz":1320,"db":-69.7},{"hz":1324,"db":-65},{"hz":1328.1,"db":-58},{"hz":1331,"db":-63},{"hz":1334,"db":-69},{"hz":1338,"db":-73.5},{"hz":1342,"db":-69.3},{"hz":1346,"db":-76.2},{"hz":1350,"db":-69.8},{"hz":1354,"db":-72.6},{"hz":1358,"db":-69.2},{"hz":1362,"db":-79.1},{"hz":1366,"db":-69.9},{"hz":1370,"db":-72.9},{"hz":1374,"db":-69.4},{"hz":1378,"db":-75.4},{"hz":1382,"db":-69.8},{"hz":1386,"db":-73.1},{"hz":1389,"db":-83.2},{"hz":1393,"db":-69.6},{"hz":1397,"db":-74.2},{"hz":1402,"db":-67},{"hz":1406.25,"db":-61},{"hz":1409,"db":-65},{"hz":1412,"db":-70},{"hz":1416,"db":-74.1},{"hz":1420,"db":-69.6},{"hz":1424,"db":-77.2},{"hz":1428,"db":-70.1},{"hz":1432,"db":-73.2},{"hz":1436,"db":-69.7},{"hz":1440,"db":-79.4},{"hz":1444,"db":-70.2},{"hz":1448,"db":-73.4},{"hz":1452,"db":-69.8},{"hz":1456,"db":-75.9},{"hz":1460,"db":-70.3},{"hz":1464,"db":-73.1},{"hz":1468,"db":-69.9},{"hz":1472,"db":-77.8},{"hz":1476,"db":-70.4},{"hz":1480,"db":-66},{"hz":1484.4,"db":-61.5},{"hz":1487,"db":-65},{"hz":1490,"db":-70},{"hz":1494,"db":-74.4},{"hz":1498,"db":-70.1},{"hz":1502,"db":-76.6},{"hz":1506,"db":-70.5},{"hz":1510,"db":-73.3},{"hz":1514,"db":-70.2},{"hz":1518,"db":-78.3},{"hz":1522,"db":-70.6},{"hz":1526,"db":-73.8},{"hz":1530,"db":-70.2},{"hz":1534,"db":-76.1},{"hz":1538,"db":-70.7},{"hz":1542,"db":-79.6},{"hz":1546,"db":-70.3},{"hz":1550,"db":-74.2},{"hz":1554,"db":-70.8},{"hz":1558,"db":-67},{"hz":1562.5,"db":-63.5},{"hz":1565,"db":-66},{"hz":1568,"db":-71},{"hz":1572,"db":-74.6},{"hz":1576,"db":-70.4},{"hz":1580,"db":-77.9},{"hz":1584,"db":-70.9},{"hz":1588,"db":-73.6},{"hz":1592,"db":-70.5},{"hz":1596,"db":-79.2},{"hz":1600,"db":-71},{"hz":1604,"db":-73.9},{"hz":1608,"db":-70.6},{"hz":1612,"db":-76.4},{"hz":1616,"db":-71.1},{"hz":1620,"db":-74.3},{"hz":1624,"db":-70.7},{"hz":1628,"db":-78.5},{"hz":1632,"db":-71.2},{"hz":1636,"db":-66},{"hz":1640.6,"db":-62.5},{"hz":1644,"db":-66},{"hz":1647,"db":-71},{"hz":1651,"db":-74.8},{"hz":1655,"db":-70.8},{"hz":1659,"db":-81.6},{"hz":1663,"db":-71.3},{"hz":1667,"db":-74.1},{"hz":1671,"db":-70.9},{"hz":1675,"db":-77.2},{"hz":1679,"db":-71.4},{"hz":1683,"db":-74.4},{"hz":1687,"db":-71},{"hz":1691,"db":-79.7},{"hz":1695,"db":-71.4},{"hz":1699,"db":-74.6},{"hz":1703,"db":-71.1},{"hz":1707,"db":-76.6},{"hz":1711,"db":-71.5},{"hz":1715,"db":-67},{"hz":1718.75,"db":-64.5},{"hz":1722,"db":-79},{"hz":1725,"db":-72},{"hz":1729,"db":-75.1},{"hz":1733,"db":-71.2},{"hz":1737,"db":-78.1},{"hz":1741,"db":-71.6},{"hz":1745,"db":-74.5},{"hz":1749,"db":-71.2},{"hz":1753,"db":-80.2},{"hz":1757,"db":-71.7},{"hz":1761,"db":-74.8},{"hz":1765,"db":-71.3},{"hz":1769,"db":-76.9},{"hz":1773,"db":-71.7},{"hz":1777,"db":-74.6},{"hz":1781,"db":-71.4},{"hz":1785,"db":-78.8},{"hz":1789,"db":-71.8},{"hz":1793,"db":-67},{"hz":1796.9,"db":-64.5},{"hz":1800,"db":-67},{"hz":1803,"db":-72},{"hz":1807,"db":-75.2},{"hz":1811,"db":-71.5},{"hz":1815,"db":-80.9},{"hz":1819,"db":-71.9},{"hz":1823,"db":-74.9},{"hz":1827,"db":-71.6},{"hz":1831,"db":-77.4},{"hz":1835,"db":-72},{"hz":1839,"db":-75.1},{"hz":1843,"db":-71.7},{"hz":1847,"db":-79.3},{"hz":1851,"db":-72.1},{"hz":1855,"db":-75.4},{"hz":1859,"db":-71.8},{"hz":1863,"db":-77.6},{"hz":1867,"db":-72.1},{"hz":1871,"db":-68},{"hz":1875,"db":-66},{"hz":1878,"db":-68},{"hz":1881,"db":-72},{"hz":1885,"db":-75.5},{"hz":1889,"db":-71.9},{"hz":1893,"db":-78.6},{"hz":1897,"db":-72.2},{"hz":1901,"db":-75.2},{"hz":1905,"db":-71.9},{"hz":1909,"db":-81.4},{"hz":1913,"db":-72.3},{"hz":1917,"db":-75.7},{"hz":1921,"db":-72},{"hz":1925,"db":-77.9},{"hz":1929,"db":-72.4},{"hz":1933,"db":-75.5},{"hz":1937,"db":-72.1},{"hz":1941,"db":-79.8},{"hz":1945,"db":-72.4},{"hz":1949,"db":-68},{"hz":1953.1,"db":-66.5},{"hz":1956,"db":-69},{"hz":1959,"db":-73},{"hz":1963,"db":-76.1},{"hz":1967,"db":-72.2},{"hz":1971,"db":-78.4},{"hz":1975,"db":-72.5},{"hz":1979,"db":-75.8},{"hz":1983,"db":-72.2},{"hz":1987,"db":-84},{"hz":1991,"db":-72.6},{"hz":1995,"db":-75.6},{"hz":1999,"db":-85},{"hz":2003,"db":-72.3},{"hz":2007,"db":-77.8},{"hz":2011,"db":-72.7},{"hz":2015,"db":-75.9},{"hz":2019,"db":-72.3},{"hz":2023,"db":-79.2},{"hz":2027,"db":-72.7},{"hz":2031.25,"db":-67},{"hz":2034,"db":-69},{"hz":2037,"db":-73},{"hz":2041,"db":-76.2},{"hz":2045,"db":-72.4},{"hz":2049,"db":-79.6},{"hz":2053,"db":-72.8},{"hz":2057,"db":-76.3},{"hz":2061,"db":-72.5},{"hz":2067,"db":-90},{"hz":2071,"db":-72.8},{"hz":2075,"db":-76.1},{"hz":2079,"db":-72.5},{"hz":2083,"db":-78.4},{"hz":2087,"db":-72.9},{"hz":2091,"db":-76.6},{"hz":2095,"db":-72.6},{"hz":2099,"db":-80.3},{"hz":2103,"db":-72.9},{"hz":2106,"db":-67},{"hz":2109.4,"db":-64},{"hz":2112,"db":-67},{"hz":2115,"db":-73},{"hz":2119,"db":-76.4},{"hz":2123,"db":-72.7},{"hz":2127,"db":-78.8},{"hz":2131,"db":-73},{"hz":2135,"db":-76.2},{"hz":2139,"db":-72.7},{"hz":2142,"db":-88},{"hz":2146,"db":-73},{"hz":2150,"db":-76.8},{"hz":2154,"db":-72.8},{"hz":2158,"db":-79.4},{"hz":2162,"db":-73.1},{"hz":2166,"db":-76.5},{"hz":2170,"db":-72.8},{"hz":2174,"db":-85},{"hz":2178,"db":-73.1},{"hz":2184,"db":-68},{"hz":2187.5,"db":-66},{"hz":2191,"db":-69},{"hz":2194,"db":-73},{"hz":2198,"db":-76.6},{"hz":2202,"db":-72.9},{"hz":2206,"db":-79.1},{"hz":2210,"db":-73.2},{"hz":2214,"db":-76.7},{"hz":2218,"db":-72.9},{"hz":2222,"db":-80.6},{"hz":2226,"db":-73.2},{"hz":2230,"db":-76.9},{"hz":2234,"db":-73},{"hz":2238,"db":-78.6},{"hz":2242,"db":-73.2},{"hz":2246,"db":-76.4},{"hz":2250,"db":-73},{"hz":2254,"db":-81.4},{"hz":2258,"db":-73.3},{"hz":2262,"db":-68},{"hz":2265.6,"db":-65},{"hz":2269,"db":-68},{"hz":2272,"db":-73},{"hz":2276,"db":-76.8},{"hz":2280,"db":-73.1},{"hz":2284,"db":-79.6},{"hz":2288,"db":-73.3},{"hz":2292,"db":-77.1},{"hz":2296,"db":-73.1},{"hz":2300,"db":-80.2},{"hz":2304,"db":-73.4},{"hz":2308,"db":-77.2},{"hz":2312,"db":-73.1},{"hz":2316,"db":-79.1},{"hz":2320,"db":-73.4},{"hz":2324,"db":-76.9},{"hz":2328,"db":-73.2},{"hz":2333,"db":-108},{"hz":2336,"db":-75},{"hz":2340,"db":-69},{"hz":2343.75,"db":-65},{"hz":2347,"db":-69},{"hz":2350,"db":-73},{"hz":2354,"db":-77},{"hz":2358,"db":-73.2},{"hz":2362,"db":-86},{"hz":2366,"db":-73.5},{"hz":2370,"db":-77.3},{"hz":2374,"db":-73.2},{"hz":2378,"db":-79.9},{"hz":2382,"db":-73.5},{"hz":2386,"db":-77.1},{"hz":2390,"db":-73.3},{"hz":2394,"db":-80.6},{"hz":2398,"db":-73.6},{"hz":2402,"db":-77.4},{"hz":2406,"db":-73.3},{"hz":2410,"db":-79.2},{"hz":2414,"db":-73.6},{"hz":2418,"db":-68},{"hz":2421.9,"db":-66},{"hz":2425,"db":-69},{"hz":2428,"db":-73},{"hz":2432,"db":-77.5},{"hz":2437,"db":-91},{"hz":2441,"db":-73.7},{"hz":2445,"db":-77.2},{"hz":2449,"db":-73.4},{"hz":2453,"db":-80.1},{"hz":2457,"db":-73.7},{"hz":2461,"db":-77.6},{"hz":2465,"db":-73.4},{"hz":2469,"db":-79.5},{"hz":2473,"db":-73.7},{"hz":2477,"db":-77.3},{"hz":2481,"db":-73.5},{"hz":2485,"db":-80.4},{"hz":2489,"db":-73.8},{"hz":2493,"db":-77.7},{"hz":2497,"db":-71},{"hz":2500,"db":-66}]
},
"vconcat":[
{"bounds":"flush","spacing":139,"hconcat":[
 {"width":457,"height":336,"title":{"text":"Diagonal lines quantification"},
  "encoding":{
   "x":{"field":"hz","type":"quantitative","scale":{"domain":[0,2500],"nice":false,"zero":false},"axis":{"values":[0,500,1000,1500,2000,2500],"title":"Frequey [Hz]","labelExpr":"'' + datum.value"}},
   "y":{"field":"db","type":"quantitative","scale":{"domain":[-73,-1.892],"nice":false,"zero":false},"axis":{"values":[-70,-60,-50,-40,-30,-20,-10],"title":"Magnitude [dB]","labelExpr":"'' + datum.value"}}
  },
  "layer":[
   {"data":{"name":"s1"},"mark":{"type":"line","color":"#0000ff","strokeWidth":2.5,"clip":true}},
   {"data":{"name":"t1"},"transform":[{"filter":{"field":"hz","oneOf":[78.13,542,1001]}}],"mark":{"type":"point","shape":"M0.14,0.12H1.28V0.92H0.14Z","size":10000,"filled":true,"fill":"#ffffe6","stroke":"#c4c4b4","strokeWidth":1,"opacity":1,"fillOpacity":1}},
   {"data":{"name":"t1"},"transform":[{"filter":{"field":"hz","equal":1079}}],"mark":{"type":"point","shape":"M0.13,0.12H1.13V0.9H0.13Z","size":10000,"filled":true,"fill":"#ffffe6","stroke":"#c4c4b4","strokeWidth":1,"opacity":1,"fillOpacity":1}},
   {"data":{"name":"t1"},"transform":[{"filter":{"field":"hz","equal":459}}],"mark":{"type":"point","shape":"M-1.27,0.12H-0.13V0.9H-1.27Z","size":10000,"filled":true,"fill":"#ffffe6","stroke":"#c4c4b4","strokeWidth":1,"opacity":1,"fillOpacity":1}},
   {"data":{"name":"t1"},"transform":[{"filter":{"field":"hz","equal":922.9}}],"mark":{"type":"point","shape":"M-1.27,-0.88H-0.13V-0.1H-1.27Z","size":10000,"filled":true,"fill":"#ffffe6","stroke":"#c4c4b4","strokeWidth":1,"opacity":1,"fillOpacity":1}},
   {"data":{"name":"t1"},"transform":[{"filter":{"field":"hz","oneOf":[78.13,542,1001,1079]}},{"calculate":"'X: ' + datum.hz + '\\nY: ' + datum.db","as":"lbl"}],"mark":{"type":"text","align":"left","baseline":"alphabetic","dx":11,"dy":23,"fontSize":12,"font":"Liberation Sans","color":"#1e1e1e","lineBreak":"\n","lineHeight":15},"encoding":{"text":{"field":"lbl"}}},
   {"data":{"name":"t1"},"transform":[{"filter":{"field":"hz","equal":459}},{"calculate":"'X: ' + datum.hz + '\\nY: ' + datum.db","as":"lbl"}],"mark":{"type":"text","align":"left","baseline":"alphabetic","dx":-59,"dy":23,"fontSize":12,"font":"Liberation Sans","color":"#1e1e1e","lineBreak":"\n","lineHeight":15},"encoding":{"text":{"field":"lbl"}}},
   {"data":{"name":"t1"},"transform":[{"filter":{"field":"hz","equal":922.9}},{"calculate":"'X: ' + datum.hz + '\\nY: ' + datum.db","as":"lbl"}],"mark":{"type":"text","align":"left","baseline":"alphabetic","dx":-59,"dy":-27,"fontSize":12,"font":"Liberation Sans","color":"#1e1e1e","lineBreak":"\n","lineHeight":15},"encoding":{"text":{"field":"lbl"}}},
   {"data":{"name":"t1"},"mark":{"type":"point","shape":"square","size":64,"filled":true,"fill":"#000000","stroke":"#ffffc8","strokeWidth":1.5,"opacity":1}}
  ]},
 {"width":456,"height":336,"title":{"text":"Amplitude spectrum of the signal"},
  "encoding":{
   "x":{"field":"hz","type":"quantitative","scale":{"domain":[0,2500],"nice":false,"zero":false},"axis":{"values":[0,500,1000,1500,2000,2500],"title":"Frequey [Hz]","labelExpr":"'' + datum.value"}},
   "y":{"field":"db","type":"quantitative","scale":{"domain":[-87,-6.602],"nice":false,"zero":false},"axis":{"values":[-80,-60,-40,-20],"title":"Magnitude [dB]","labelExpr":"'' + datum.value"}}
  },
  "layer":[
   {"data":{"name":"s2"},"mark":{"type":"line","color":"#0000ff","strokeWidth":2.5,"clip":true}},
   {"data":{"name":"t2"},"transform":[{"filter":{"field":"hz","equal":459}}],"mark":{"type":"point","shape":"M-1.3,0.11H-0.1V0.93H-1.3Z","size":10000,"filled":true,"fill":"#ffffe6","stroke":"#c4c4b4","strokeWidth":1,"opacity":1,"fillOpacity":1}},
   {"data":{"name":"t2"},"transform":[{"filter":{"field":"hz","equal":537.1}}],"mark":{"type":"point","shape":"M0.08,0.11H1.24V0.93H0.08Z","size":10000,"filled":true,"fill":"#ffffe6","stroke":"#c4c4b4","strokeWidth":1,"opacity":1,"fillOpacity":1}},
   {"data":{"name":"t2"},"transform":[{"filter":{"field":"hz","equal":459}},{"calculate":"'X: ' + datum.hz + '\\nY: ' + datum.db","as":"lbl"}],"mark":{"type":"text","align":"left","baseline":"alphabetic","dx":-61,"dy":22,"fontSize":12,"font":"Liberation Sans","color":"#1e1e1e","lineBreak":"\n","lineHeight":15},"encoding":{"text":{"field":"lbl"}}},
   {"data":{"name":"t2"},"transform":[{"filter":{"field":"hz","equal":537.1}},{"calculate":"'X: ' + datum.hz + '\\nY: ' + datum.db","as":"lbl"}],"mark":{"type":"text","align":"left","baseline":"alphabetic","dx":8,"dy":22,"fontSize":12,"font":"Liberation Sans","color":"#1e1e1e","lineBreak":"\n","lineHeight":15},"encoding":{"text":{"field":"lbl"}}},
   {"data":{"name":"t2"},"mark":{"type":"point","shape":"square","size":64,"filled":true,"fill":"#000000","stroke":"#ffffc8","strokeWidth":1.5,"opacity":1}}
  ]}
]},
{"bounds":"flush","spacing":0,"hconcat":[
 {"width":306,"height":355,"data":{"values":[]},"mark":"point","view":{"stroke":"transparent"}},
 {"width":454,"height":355,"title":{"text":"Envelope amplitude spectrum of the signal","offset":-4},
  "encoding":{
   "x":{"field":"hz","type":"quantitative","scale":{"domain":[0,2500],"nice":false,"zero":false},"axis":{"values":[0,500,1000,1500,2000,2500],"title":"Frequency [Hz]","labelExpr":"'' + datum.value"}},
   "y":{"field":"db","type":"quantitative","scale":{"domain":[-108,1.8],"nice":false,"zero":false},"axis":{"values":[-100,-80,-60,-40,-20,0],"title":"Magnitude [dB]","labelExpr":"'' + datum.value"}}
  },
  "layer":[
   {"data":{"name":"s3"},"mark":{"type":"line","color":"#0000ff","strokeWidth":2.5,"clip":true}},
   {"data":{"name":"t3"},"transform":[{"filter":{"field":"hz","oneOf":[78.13,156.3]}}],"mark":{"type":"point","shape":"M0.12,-0.94H1.32V-0.12H0.12Z","size":10000,"filled":true,"fill":"#ffffe6","stroke":"#c4c4b4","strokeWidth":1,"opacity":1,"fillOpacity":1}},
   {"data":{"name":"t3"},"transform":[{"filter":{"field":"hz","oneOf":[78.13,156.3]}},{"calculate":"'X: ' + datum.hz + '\\nY: ' + datum.db","as":"lbl"}],"mark":{"type":"text","align":"left","baseline":"alphabetic","dx":10,"dy":-30,"fontSize":12,"font":"Liberation Sans","color":"#1e1e1e","lineBreak":"\n","lineHeight":15},"encoding":{"text":{"field":"lbl"}}},
   {"data":{"name":"t3"},"transform":[{"filter":{"field":"hz","equal":234.4}}],"mark":{"type":"point","shape":"M0.12,-0.94H1.32V-0.12H0.12Z","size":10000,"filled":true,"fill":"#ffffe6","stroke":"#c4c4b4","strokeWidth":1,"opacity":1,"fillOpacity":1}},
   {"data":{"name":"t3"},"transform":[{"filter":{"field":"hz","equal":234.4}},{"calculate":"'X: ' + datum.hz + '\\nY: ' + datum.db","as":"lbl"}],"mark":{"type":"text","align":"left","baseline":"alphabetic","dx":10,"dy":-30,"fontSize":12,"font":"Liberation Sans","color":"#1e1e1e","lineBreak":"\n","lineHeight":15},"encoding":{"text":{"field":"lbl"}}},
   {"data":{"name":"t3"},"mark":{"type":"point","shape":"square","size":64,"filled":true,"fill":"#000000","stroke":"#ffffc8","strokeWidth":1.5,"opacity":1}}
  ]}
]}
]
}
